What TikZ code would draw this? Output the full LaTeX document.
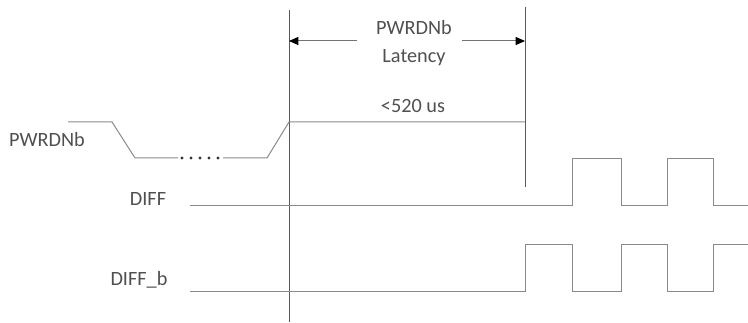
\documentclass[tikz,border=0pt]{standalone}
\usepackage{fontspec}
\setmainfont{Carlito}
\usetikzlibrary{arrows.meta}
\definecolor{sig}{HTML}{8A8A8A}
\definecolor{txt}{HTML}{505050}
\tikzset{
	wave/.style={line width=0.75pt, color=sig},
	marker/.style={line width=0.75pt, color=black!65},
	dim/.style={line width=0.75pt, color=black!55, -{Triangle[length=7pt, width=6pt, color=black]}},
	lbl/.style={font=\fontsize{15.2}{18}\selectfont, text=txt, inner sep=0pt}
}

\begin{document}
\begin{tikzpicture}[x=0.75pt, y=-0.75pt]
			%%%%% START %%%%%
			\useasboundingbox (0, 0) rectangle (748, 323);
			
			% latency markers
			\coordinate (startTop) at (289, 10);
			\coordinate (startBot) at (289, 322);
			\coordinate (endTop) at (525, 7);
			\coordinate (endBot) at (525, 187);
			\draw[marker] (startTop) -- (startBot);
			\draw[marker] (endTop) -- (endBot);
			
			\coordinate (arrL) at (357, 41);
			\coordinate (arrR) at (462, 41);
			\draw[dim] (arrL) -- (startTop |- arrL);
			\draw[dim] (arrR) -- (endTop |- arrR);
			
			\node[lbl, align=center] (latency) at (414, 43) {PWRDNb\\[3pt]Latency};
			\node[lbl] (limit) at (413, 106) {<520 us};
			
			% PWRDNb
			\node[lbl] (pwrLabel) at (47, 140) {PWRDNb};
			\draw[wave] (68, 122) -- (112, 122) -- (135, 158) -- (178, 158);
			\foreach \x in {182, 191, 200, 209, 218}
				\fill[black!80] (\x, 158) circle (1.6);
			\draw[wave] (223, 158) -- (267, 158) -- (289, 122) -- (endTop |- 0, 122);
			
			% DIFF
			\node[lbl] (diffLabel) at (148, 199) {DIFF};
			\draw[wave] (190, 206) -- (572, 206) -- (572, 159) -- (621, 159) -- (621, 206)
				-- (667, 206) -- (667, 159) -- (713, 159) -- (713, 206) -- (748, 206);
			
			% DIFF_b
			\node[lbl] (diffbLabel) at (139, 280) {DIFF\_b};
			\draw[wave] (190, 292) -- (525, 292) -- (525, 245) -- (572, 245) -- (572, 292)
				-- (621, 292) -- (621, 245) -- (667, 245) -- (667, 292) -- (713, 292)
				-- (713, 245) -- (748, 245);
			%%%%% END %%%%%
\end{tikzpicture}
\end{document}
